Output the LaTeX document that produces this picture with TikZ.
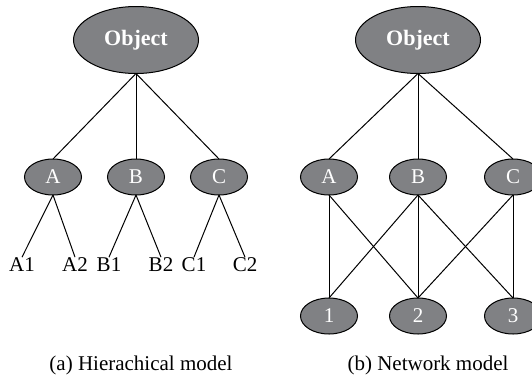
\documentclass[tikz,border=0pt]{standalone}
\usepackage{fontspec}
\setmainfont{Liberation Serif}
\usetikzlibrary{shapes.geometric}
\definecolor{nodegray}{RGB}{128,129,132}
\tikzset{
    font = \fontsize{21}{21}\selectfont,
    every node/.style = {
        inner sep = 0pt,
        outer sep = 0pt
    },
    root/.style = {
        ellipse,
        draw,
        line width = 1pt,
        fill = nodegray,
        text = white,
        minimum width = 125pt,
        minimum height = 67pt,
        font = \fontsize{22}{22}\selectfont\bfseries
    },
    member/.style = {
        ellipse,
        draw,
        line width = 1pt,
        fill = nodegray,
        text = white,
        minimum width = 57pt,
        minimum height = 36pt
    },
    leaf/.style = {
        anchor = base
    },
    caption/.style = {
        anchor = base
    },
    link/.style = {
        line width = 1pt
    }
}

\begin{document}
\begin{tikzpicture}[x=1pt, y=-1pt]
    \useasboundingbox (0,0) rectangle (532,378);
    \clip (0,0) rectangle (532,378);

    % (a) hierachical
    \node (hobj) at (136,40) [root]{Object};
    \node (ha) at (53,177) [member]{A};
    \node (hb) at (136,177) [member]{B};
    \node (hc) at (219,177) [member]{C};
    \node (ha1) at (22,271) [leaf]{A1};
    \node (ha2) at (75,271) [leaf]{A2};
    \node (hb1) at (109,271) [leaf]{B1};
    \node (hb2) at (161,271) [leaf]{B2};
    \node (hc1) at (194,271) [leaf]{C1};
    \node (hc2) at (245,271) [leaf]{C2};
    \foreach \n in {ha,hb,hc}
        \draw [link] (hobj.south) -- (\n.north);
    \foreach \p/\c in {ha/ha1,ha/ha2,hb/hb1,hb/hb2,hc/hc1,hc/hc2}
        \draw [link] (\p.south) -- (\c.north);
    \node (capa) at (141,370) [caption]{(a) Hierachical model};

    % (b) network
    \node (nobj) at (418,40) [root]{Object};
    \node (na) at (329,177) [member]{A};
    \node (nb) at (418,177) [member]{B};
    \node (nc) at (513,177) [member]{C};
    \node (n1) at (329,316) [member]{1};
    \node (n2) at (418,316) [member]{2};
    \node (n3) at (513,316) [member]{3};
    \foreach \n in {na,nb,nc}
        \draw [link] (nobj.south) -- (\n.north);
    \foreach \p/\c in {na/n1,na/n2,nb/n1,nb/n2,nb/n3,nc/n2,nc/n3}
        \draw [link] (\p.south) -- (\c.north);
    \node (capb) at (428,370) [caption]{(b) Network model};
\end{tikzpicture}
\end{document}
